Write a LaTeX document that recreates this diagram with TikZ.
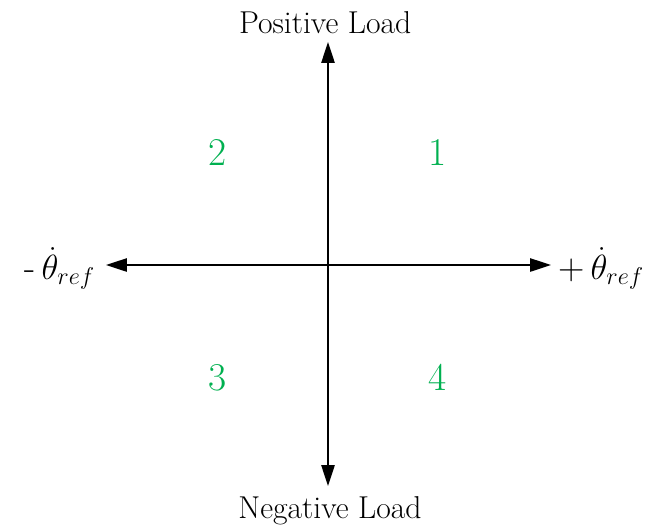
\documentclass[tikz,border=0pt]{standalone}
\usepackage{tikz}
\usetikzlibrary{positioning,arrows.meta}
\usepackage{amsmath,amssymb}
\usepackage{xcolor}
\definecolor{quadgreen}{RGB}{0,176,80}

\begin{document}
\begin{tikzpicture}[
  axis/.style={-{Triangle[length=5.2mm, width=3.3mm]}, line width=1.2pt},
  axlabel/.style={font=\fontsize{22.5}{26}\selectfont, inner sep=0pt},
  speed/.style={font=\fontsize{26}{30}\selectfont, inner sep=0pt},
  quad/.style={font=\fontsize{28}{32}\selectfont, text=quadgreen, inner sep=0pt}
]
\useasboundingbox (-8.2,-6.5) rectangle (7.95,6.625);
% Axis ends
\coordinate (o) at (0,0);
\coordinate (top) at (0,5.575);
\coordinate (bot) at (0,-5.525);
\coordinate (lft) at (-5.55,0);
\coordinate (rgt) at (5.575,0);
% Axes
\draw[axis] (o) -- (top);
\draw[axis] (o) -- (bot);
\draw[axis] (o) -- (lft);
\draw[axis] (o) -- (rgt);
% Axis labels
\node[axlabel, above=0.2cm of top, xshift=-0.07cm] (posload) {Positive Load};
\node[axlabel, below=0.25cm of bot, xshift=0.05cm] (negload) {Negative Load};
\node[speed, left=0.27cm of lft, yshift=-0.08cm] (negspeed) {-\,$\dot{\theta}_{ref}$};
\node[speed, right=0.17cm of rgt, yshift=-0.08cm] (posspeed) {+\,$\dot{\theta}_{ref}$};
% Quadrants
\node[quad] (q1) at (2.75,2.82) {1};
\node[quad] (q2) at (-2.77,2.82) {2};
\node[quad] (q3) at (-2.77,-2.82) {3};
\node[quad] (q4) at (2.75,-2.82) {4};
\end{tikzpicture}
\end{document}
